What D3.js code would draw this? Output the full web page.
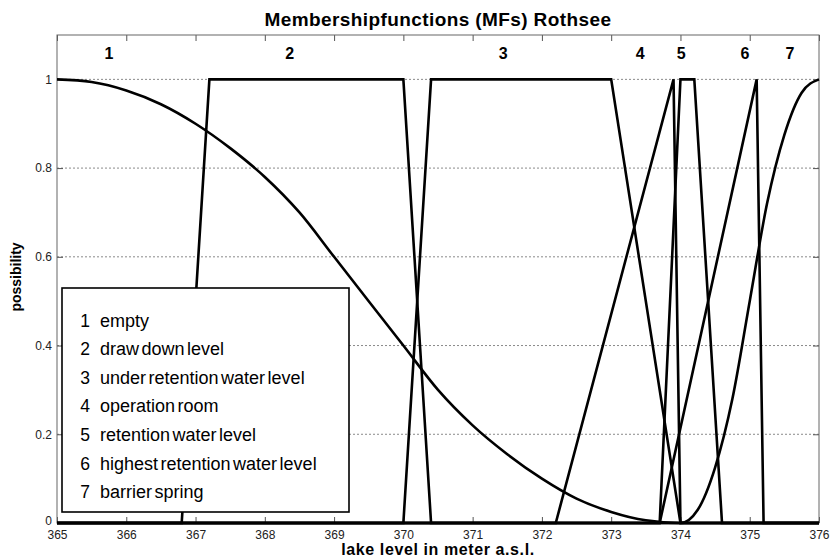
<!DOCTYPE html>
<html><head><meta charset="utf-8">
<script src="https://cdn.jsdelivr.net/npm/d3@7"></script>
<style>
html,body{margin:0;padding:0;background:#fff;}
svg{display:block;font-family:"Liberation Sans",Arial,sans-serif;}
</style></head>
<body><svg id="c" width="831" height="558"></svg>
<script>
// ---- data ----
const xTicks = [365,366,367,368,369,370,371,372,373,374,375,376];
const yTicks = [0,0.2,0.4,0.6,0.8,1];
const yTickLabels = ["0","0.2","0.4","0.6","0.8","1"];
// MF1 "empty" (z-shaped curve)
const mf1X = [365,365.5,366,366.5,367,367.5,368,368.5,369,369.5,370,370.5,371,371.5,372,372.5,373,373.5,374,376];
const mf1Y = [1,0.994,0.975,0.944,0.90,0.845,0.78,0.70,0.60,0.50,0.40,0.30,0.22,0.155,0.10,0.055,0.025,0.006,0,0];
// MF2..MF6 breakpoints (trapezoids / triangles)
const mf2 = [366.8,367.2,370.0,370.4];
const mf3 = [370.0,370.4,373.0,374.0];
const mf4 = [372.2,373.9,374.0];
const mf5 = [373.7,374.0,374.2,374.6];
const mf6 = [373.7,375.1,375.2];
// MF7 "barrier spring" (s-shaped curve)
const mf7X = [365,374,374.25,374.5,374.75,375,375.25,375.5,375.75,376];
const mf7Y = [0,0,0.03,0.125,0.28,0.5,0.72,0.875,0.97,1];
// top labels
const topLabels = ["1","2","3","4","5","6","7"];
const topLabelX = [365.75,368.36,371.44,373.42,374.01,374.93,375.58];
// legend
const legendNums = ["1","2","3","4","5","6","7"];
const legendNames = ["empty","draw down level","under retention water level","operation room","retention water level","highest retention water level","barrier spring"];

// ---- drawing ----
const svg = d3.select("#c");
const L=57,R=819,T=35,B=523;
const x = d3.scaleLinear().domain([365,376]).range([L,R]);
const y = d3.scaleLinear().domain([0,1.1]).range([B,T]);

// grid
svg.append("g").selectAll("line").data(yTicks.filter(d=>d>0)).join("line")
  .attr("x1",L).attr("x2",R).attr("y1",d=>y(d)).attr("y2",d=>y(d))
  .attr("stroke","#8a8a8a").attr("stroke-width",1).attr("stroke-dasharray","2,2");

// axes
const tl=6;
const gx=svg.append("g").attr("transform",`translate(0,${B})`)
  .call(d3.axisBottom(x).tickValues(xTicks).tickFormat(d3.format("d")).tickSizeInner(-tl).tickSizeOuter(0).tickPadding(7));
const gxt=svg.append("g").attr("transform",`translate(0,${T})`)
  .call(d3.axisTop(x).tickValues(xTicks).tickFormat("").tickSizeInner(-tl).tickSizeOuter(0));
const gy=svg.append("g").attr("transform",`translate(${L},0)`)
  .call(d3.axisLeft(y).tickValues(yTicks).tickFormat((d,i)=>yTickLabels[i]).tickSizeInner(-tl).tickSizeOuter(0).tickPadding(5));
const gyr=svg.append("g").attr("transform",`translate(${R},0)`)
  .call(d3.axisRight(y).tickValues(yTicks).tickFormat("").tickSizeInner(-tl).tickSizeOuter(0));
[gx,gxt,gy,gyr].forEach(g=>{
  g.select(".domain").remove();
  g.selectAll(".tick line").attr("stroke","#555");
  g.selectAll("text").attr("font-size",12).attr("fill","#222").attr("font-family","Liberation Sans, Arial, sans-serif");
});
// lift the "0" label slightly, as in the reference
gy.selectAll(".tick text").filter(d=>d===0).attr("dy","0.1em");
svg.append("rect").attr("x",L).attr("y",T).attr("width",R-L).attr("height",B-T)
  .attr("fill","none").attr("stroke","#666").attr("stroke-width",1);

// MFs
const line = d3.line().x(d=>x(d[0])).y(d=>y(d[1]));
const smooth = d3.line().x(d=>x(d[0])).y(d=>y(d[1])).curve(d3.curveMonotoneX);
function trap(p){return [[365,0],[p[0],0],[p[1],1],[p[2],1],[p[3],0],[376,0]];}
function tri(p){return [[365,0],[p[0],0],[p[1],1],[p[2],0],[376,0]];}
const g=svg.append("g").attr("fill","none").attr("stroke","#000").attr("stroke-width",2.6).attr("stroke-linejoin","miter");
g.append("path").attr("d",smooth(mf1X.map((v,i)=>[v,mf1Y[i]])));
g.append("path").attr("d",line(trap(mf2)));
g.append("path").attr("d",line(trap(mf3)));
g.append("path").attr("d",line(tri(mf4)));
g.append("path").attr("d",line(trap(mf5)));
g.append("path").attr("d",line(tri(mf6)));
g.append("path").attr("d",smooth(mf7X.map((v,i)=>[v,mf7Y[i]])));

// top labels
svg.append("g").selectAll("text").data(topLabels).join("text")
  .attr("x",(d,i)=>x(topLabelX[i])).attr("y",59).attr("text-anchor","middle")
  .attr("font-size",16).attr("font-weight","bold").text(d=>d);

// legend
const lg=svg.append("g");
lg.append("rect").attr("x",62).attr("y",288).attr("width",287).attr("height",224)
  .attr("fill","#fff").attr("stroke","#000").attr("stroke-width",1.6);
lg.selectAll("text.n").data(legendNums).join("text").attr("class","n")
  .attr("x",85).attr("y",(d,i)=>326.5+i*28.6).attr("text-anchor","middle")
  .attr("font-size",17.5).text(d=>d);
lg.selectAll("text.t").data(legendNames).join("text").attr("class","t")
  .attr("x",100).attr("y",(d,i)=>326.5+i*28.6)
  .attr("font-size",18).attr("word-spacing",-2.5).text(d=>d);

// titles
svg.append("text").attr("x",(L+R)/2).attr("y",26).attr("text-anchor","middle")
  .attr("font-size",19).attr("font-weight","bold").attr("letter-spacing",0.4).text("Membershipfunctions (MFs) Rothsee");
svg.append("text").attr("x",(L+R)/2).attr("y",555).attr("text-anchor","middle")
  .attr("font-size",16).attr("font-weight","bold").attr("letter-spacing",0.6).text("lake level in meter a.s.l.");
svg.append("text").attr("transform",`translate(21,277) rotate(-90)`).attr("text-anchor","middle")
  .attr("font-size",14).attr("font-weight","bold").text("possibility");
</script></body></html>
